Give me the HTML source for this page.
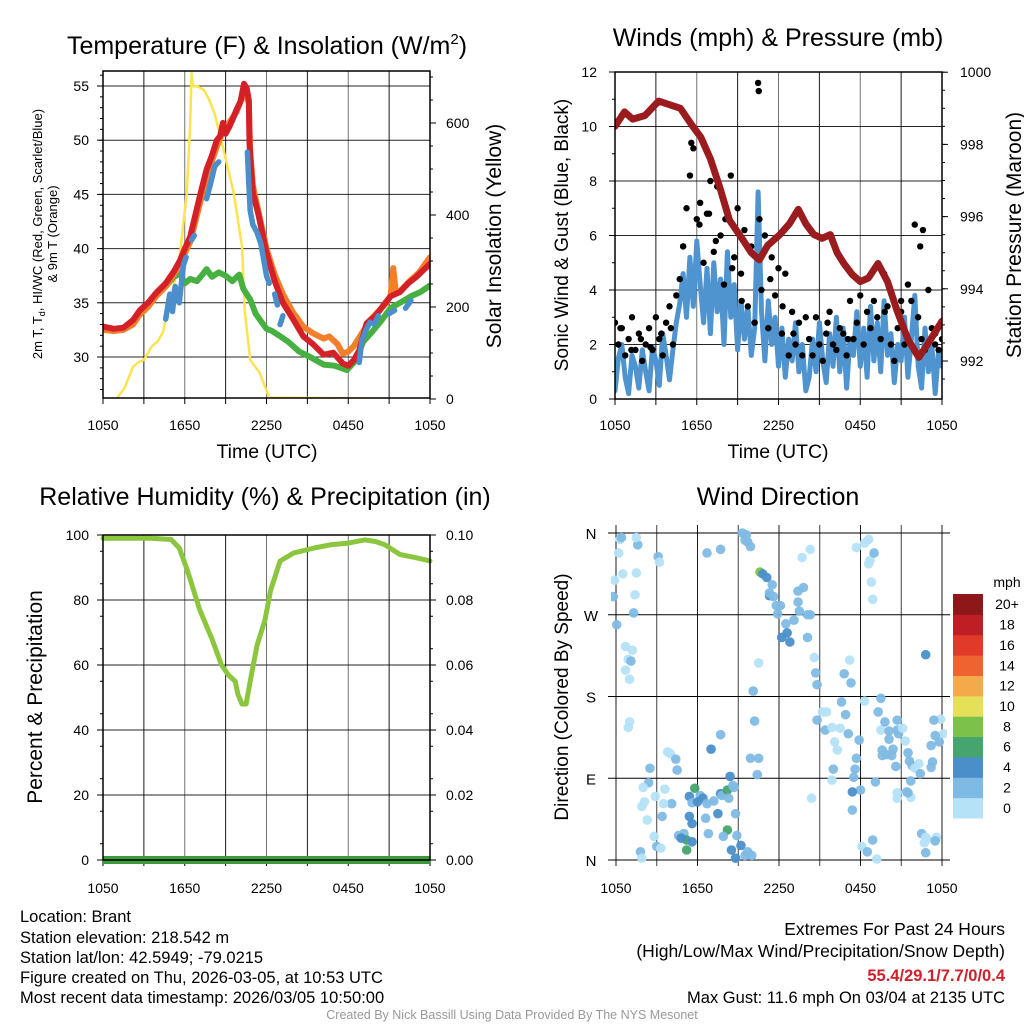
<!DOCTYPE html>
<html><head><meta charset="utf-8">
<style>
html,body{margin:0;padding:0;background:#fff;}
svg{display:block;font-family:"Liberation Sans",sans-serif;}
</style></head>
<body>
<svg id="fig" width="1024" height="1024" viewBox="0 0 1024 1024" xmlns="http://www.w3.org/2000/svg">
<rect x="0" y="0" width="1024" height="1024" fill="#fff"/>
<g id="p1"></g>
<g id="p2"></g>
<g id="p3"></g>
<g id="p4"></g>

<text x="267" y="54" font-size="25" text-anchor="middle">Temperature (F) &amp; Insolation (W/m<tspan dy="-10" font-size="15">2</tspan><tspan dy="10">)</tspan></text>
<text x="778" y="46" font-size="25" text-anchor="middle">Winds (mph) &amp; Pressure (mb)</text>
<text x="265" y="505" font-size="25" text-anchor="middle">Relative Humidity (%) &amp; Precipitation (in)</text>
<text x="778" y="505" font-size="25" text-anchor="middle">Wind Direction</text>

<text x="267" y="458" font-size="19.5" text-anchor="middle">Time (UTC)</text>
<text x="778" y="458" font-size="19.5" text-anchor="middle">Time (UTC)</text>

<text transform="translate(42,234) rotate(-90)" font-size="13" text-anchor="middle">2m T, T<tspan dy="3" font-size="9">d</tspan><tspan dy="-3">, HI/WC (Red, Green, Scarlet/Blue)</tspan></text>
<text transform="translate(57,234) rotate(-90)" font-size="13" text-anchor="middle">&amp; 9m T (Orange)</text>
<text transform="translate(501,236) rotate(-90)" font-size="21" text-anchor="middle">Solar Insolation (Yellow)</text>
<text transform="translate(568,235) rotate(-90)" font-size="19" text-anchor="middle">Sonic Wind &amp; Gust (Blue, Black)</text>
<text transform="translate(1021,235) rotate(-90)" font-size="21" text-anchor="middle">Station Pressure (Maroon)</text>
<text transform="translate(42,697) rotate(-90)" font-size="21" text-anchor="middle">Percent &amp; Precipitation</text>
<text transform="translate(568,697) rotate(-90)" font-size="19" text-anchor="middle">Direction (Colored By Speed)</text>

<g font-size="16.5">
<text x="20" y="922">Location: Brant</text>
<text x="20" y="943">Station elevation: 218.542 m</text>
<text x="20" y="963">Station lat/lon: 42.5949; -79.0215</text>
<text x="20" y="983">Figure created on Thu, 2026-03-05, at 10:53 UTC</text>
<text x="20" y="1003">Most recent data timestamp: 2026/03/05 10:50:00</text>
</g>
<g font-size="17.5" text-anchor="end">
<text x="1005" y="935">Extremes For Past 24 Hours</text>
<text x="1005" y="957">(High/Low/Max Wind/Precipitation/Snow Depth)</text>
<text x="1005" y="981" fill="#d0202a" font-weight="bold" font-size="16.5">55.4/29.1/7.7/0/0.4</text>
<text x="1005" y="1003" font-size="16.5">Max Gust: 11.6 mph On 03/04 at 2135 UTC</text>
</g>
<text x="512" y="1019" font-size="12.5" fill="#999" text-anchor="middle">Created By Nick Bassill Using Data Provided By The NYS Mesonet</text>
</svg>
<script>
// ---------- data ----------
const xTickLabels = ["1050","1650","2250","0450","1050"];
const tempTicks = [30,35,40,45,50,55];
const insolTicks = [0,200,400,600];
const windTicks = [0,2,4,6,8,10,12];
const presTicks = [992,994,996,998,1000];
const rhTicks = [0,20,40,60,80,100];
const precipTicks = ["0.00","0.02","0.04","0.06","0.08","0.10"];
const dirLabels = ["N","E","S","W","N"];

const redH = [0,0.8,1.5,2.2,2.7,3.3,3.9,4.6,5.2,5.65,6.0,6.4,6.8,7.2,7.6,8.0,8.35,8.6,8.8,9.0,9.3,9.6,9.8,10.1,10.35,10.55,10.7,10.75,10.85,11.0,11.4,12.0,12.6,13.2,13.9,14.7,15.4,16.2,16.9,17.6,18.0,18.4,18.8,19.35,20.0,20.6,21.1,21.8,22.4,23.0,23.5,24];
const redT = [32.8,32.6,32.7,33.4,34.3,35.0,35.9,36.8,37.9,38.9,40.0,41.1,43.2,45.3,47.3,48.6,50.0,50.4,51.6,50.6,51.3,52.2,52.8,53.6,55.2,54.8,53.7,49.7,47.8,45.1,43.2,39.6,37.0,35.0,33.6,31.9,31.2,30.2,30.4,29.4,29.2,29.7,30.6,33.1,33.8,34.8,35.6,36.0,36.8,37.4,38.0,38.6];
const orangeH = [0,0.8,1.5,2.2,2.7,3.3,3.9,4.6,5.2,5.65,6.4,7.6,8.35,8.8,9.8,10.35,10.7,10.8,11.0,12.0,12.6,13.2,13.9,14.7,15.4,16.2,16.6,17.2,17.6,18.0,18.4,19.0,19.6,20.2,20.8,21.1,21.3,21.5,21.9,22.5,23.2,24];
const orangeT = [32.5,32.4,32.5,33.0,33.9,34.6,35.6,36.5,37.6,38.6,40.6,46.6,49.4,50.8,52.6,54.4,53.5,49.0,45.8,40.0,37.6,35.8,34.2,32.8,32.2,31.7,31.9,31.2,30.3,30.5,31.0,32.2,33.4,34.2,35.0,35.6,38.2,35.9,36.2,37.0,37.8,39.2];
const greenH = [0,0.8,1.5,2.2,2.7,3.3,3.9,4.6,5.2,5.65,6.0,6.4,6.9,7.3,7.6,8.0,8.5,9.0,9.5,10.0,10.3,10.8,11.2,11.6,12.0,12.4,12.9,13.6,14.4,15.2,16.2,17.0,17.9,18.5,19.1,19.8,20.4,21.1,21.8,22.6,23.3,24];
const greenT = [32.6,32.5,32.6,33.3,34.2,34.9,35.8,36.5,37.4,37.7,36.8,37.2,37.0,37.6,38.1,37.4,37.8,37.5,37.0,37.6,36.3,35.3,34.0,33.3,32.6,32.4,32.0,31.4,30.5,30.0,29.3,29.2,28.8,29.6,31.4,32.4,33.3,34.5,35.0,35.6,36.0,36.6];
const wcH = [4.6,4.9,5.1,5.3,5.6,5.9,6.1,null,6.5,6.7,null,7.6,7.9,8.2,8.5,null,10.6,10.7,10.8,11.0,11.3,11.6,12.0,12.2,null,12.6,12.8,null,13.0,13.2,null,18.8,19.0,19.3,19.6,null,19.9,20.2,null,21.0,21.4,null,22.2,22.6];
const wcT = [33.5,35.8,34.2,36.5,35.0,38.5,39.2,null,40.8,41.2,null,44.6,46.0,47.6,48.0,null,48.9,46.0,43.5,42.2,41.5,40.4,37.5,36.8,null,35.8,34.8,null,33.0,33.8,null,29.5,31.5,32.5,33.2,null,33.0,33.8,null,34.0,34.3,null,34.5,35.2];
const insolH = [0,1.0,1.6,2.2,2.6,3.0,3.6,4.0,4.4,4.9,5.3,5.65,6.15,6.4,6.5,6.6,6.9,7.4,7.8,8.2,8.8,9.6,10.2,10.4,10.8,11.5,12.2,24];
const insolW = [0,0,25,70,80,85,115,125,145,215,260,317,447,600,708,680,680,672,650,620,548,447,331,193,85,57,3,0];

const windV = [0.3,1.5,2.0,0.8,0.2,1.6,1.2,0.4,1.8,1.0,0.3,1.9,1.4,0.5,2.4,1.6,0.7,1.8,2.8,
3.5,4.6,3.0,5.2,3.4,5.8,4.2,2.8,
4.8,2.4,5.0,3.2,4.4,2.0,5.4,3.0,4.2,1.8,3.6,2.2,3.4,1.6,2.6,
7.6,
3.2,1.4,3.6,2.0,3.0,1.2,2.6,0.8,2.2,1.4,2.8,1.0,2.0,0.3,
0.8,2.2,1.0,2.8,1.4,0.6,2.4,1.2,3.0,1.0,2.6,0.4,2.2,1.6,3.2,1.2,2.6,0.8,3.4,1.4,2.8,1.0,3.6,1.6,2.4,0.6,2.0,1.4,3.0,0.8,2.2,3.8,1.2,0.4,2.6,1.0,2.0,0.2,1.8,1.2];
const gustV = [2.8,2.0,2.6,1.6,2.2,3.0,1.8,2.4,1.4,2.0,2.6,1.8,3.0,2.2,1.6,2.8,3.4,2.0,3.8,
4.4,5.6,7.0,8.2,9.2,6.6,7.2,5.0,
6.8,8.0,5.4,7.8,6.0,4.2,6.6,8.2,5.2,7.0,4.6,6.2,3.4,5.6,2.8,
11.6,
4.0,6.0,2.6,5.2,3.8,4.8,2.4,4.6,1.6,3.2,2.0,2.8,1.6,3.0,
2.2,1.6,3.0,2.0,1.4,2.4,3.2,2.0,1.8,2.6,2.4,1.6,3.6,2.2,2.8,3.8,2.0,3.2,2.6,3.6,3.0,2.2,4.6,3.4,2.0,1.4,2.6,3.2,2.0,4.2,3.6,6.4,3.0,2.2,1.8,4.0,2.6,2.0,1.8,2.2];
const gustExtraH = [0.4,1.2,1.9,2.6,3.4,4.1,5.0,5.6,6.2,6.9,7.4,8.1,8.6,9.3,10.55,10.6,11.4,12.3,13.1,15.6,17.1,19.8,21.0,22.4,22.6,23.5];
const gustExtraV = [2.6,1.8,2.2,1.9,2.4,2.6,5.6,9.4,6.4,6.8,5.8,6.6,4.8,3.6,11.3,6.6,4.4,3.4,2.4,2.8,2.2,3.2,3.6,5.6,6.2,2.4];
const presH = [0,0.7,1.3,2.2,3.2,4.0,4.8,5.7,6.3,7.0,7.7,8.4,9.4,10.0,10.6,11.2,12.1,12.8,13.45,14.0,14.6,15.2,15.8,16.3,16.8,17.4,18.0,18.6,19.3,20.0,20.7,21.5,22.3,23.0,24];
const presP = [998.5,998.9,998.7,998.8,999.2,999.1,999.0,998.5,998.2,997.6,996.8,995.9,995.35,995.0,994.8,995.2,995.5,995.8,996.2,995.8,995.5,995.4,995.5,995.0,994.7,994.4,994.2,994.3,994.7,994.2,993.4,992.6,992.1,992.5,993.1];

const rhH = [0,3.5,5.0,5.6,6.2,7.1,8.0,8.7,9.2,9.7,9.9,10.2,10.5,10.8,11.3,11.9,12.3,13.0,14.0,15.5,16.7,18.0,19.2,20.0,20.7,21.8,23.0,24];
const rhV = [99,99,98.6,96,89,77,68,60,57,55,51,48,48,55,66,74,83,92,94.5,96,97,97.5,98.5,98,97,94,93,92];
const precipH = [0,24];
const precipV = [0,0];

const dirH = [0.3,0.4,0.2,-0.1,-0.2,0.05,1.3,0.5,1.5,1.4,1.6,1.5,0.7,1.2,0.9,1.1,0.7,1.0,1.0,0.9,
2.5,2.4,2.0,2.1,1.9,2.3,2.8,3.0,1.8,1.9,2.9,3.4,3.6,3.8,4.0,4.4,4.5,4.1,3.5,3.3,3.1,3.2,
5.4,5.6,5.8,6.2,6.0,6.4,6.7,7.2,7.5,7.7,7.8,8.2,8.3,8.4,8.6,8.7,7.0,7.7,6.6,6.8,5.4,5.6,4.6,5.0,5.2,5.6,5.2,4.8,8.2,7.9,8.5,8.8,8.9,9.2,9.5,9.7,10.0,6.7,7.7,8.8,
9.3,9.6,9.5,9.7,9.9,10.6,10.8,11.1,11.5,11.3,11.3,11.6,11.8,11.9,12.1,12.5,12.6,12.8,12.2,13.1,13.4,13.4,13.5,13.8,13.7,14.3,14.1,14.3,14.1,14.6,14.7,14.8,10.5,10.1,10.2,9.9,10.5,10.4,14.4,
14.8,15.2,15.4,15.5,15.9,16.1,16.3,16.0,15.9,16.5,16.9,16.6,17.1,17.2,16.8,17.3,17.7,17.9,17.7,17.6,17.5,18.0,17.4,17.4,18.1,18.3,18.6,18.7,18.8,18.9,19.0,18.3,18.6,18.9,18.5,19.2,19.3,19.5,19.5,19.1,19.6,19.6,19.9,19.8,20.1,20.1,20.4,20.3,20.6,20.8,20.7,20.7,21.1,21.3,21.5,21.6,21.8,22.3,22.0,22.4,23.2,23.8,23.9,24.1,23.4,23.5,23.3,23.2,21.7,20.7,21.7,21.4,21.5,20.7,22.5,22.9,23.6,22.8,23.5,22.7,22.8,22.8];
const dirD = [353,355,338,308,290,259,272,315,316,292,347,355,235,231,221,219,209,199,152,146,
101,85,80,64,59,44,26,15,9,2,70,48,78,119,117,111,99,62,62,13,334,328,
70,63,79,71,64,68,62,65,51,73,71,77,68,92,82,80,122,138,46,29,48,40,27,29,22,20,11,24,33,26,11,2,27,16,5,9,5,338,342,51,
360,358,352,350,345,317,315,311,303,291,294,290,280,271,280,260,250,240,245,264,284,296,274,300,333,342,270,270,245,223,206,193,217,186,153,112,112,94,68,
154,163,143,163,146,130,121,100,88,145,160,174,139,220,205,195,344,132,112,100,91,77,75,55,15,175,353,330,306,287,338,349,326,22,9,1,163,178,143,86,121,115,116,152,142,133,122,115,103,139,143,154,145,131,118,109,104,106,101,95,126,130,155,139,154,137,108,102,87,74,69,75,74,68,29,23,25,25,21,19,8,226,357,358,334];
const dirS = [1,2,1,1,2,2,2,1,1,1,2,1,1,1,1,2,1,1,1,1,
2,2,1,1,1,1,1,2,2,1,1,2,1,1,1,2,2,2,1,1,2,1,
4,3,6,3,4,4,3,3,4,4,3,6,3,4,3,3,4,2,2,3,4,4,3,3,6,4,6,4,6,3,4,4,3,4,3,2,2,2,2,2,
3,3,2,3,3,8,4,4,3,4,3,3,2,3,2,3,4,4,4,2,3,3,2,3,1,1,2,3,2,1,2,3,1,2,2,3,2,3,1,
2,1,2,1,1,1,1,2,1,1,2,3,2,1,3,3,1,2,2,3,2,3,4,3,1,1,1,1,1,1,3,1,1,3,3,1,3,3,1,3,2,2,2,3,2,3,3,2,3,3,3,2,1,1,2,2,3,1,1,2,3,2,1,1,3,2,2,2,3,1,1,2,3,1,3,1,1,1,3,1,2,4,2,4];
const speedLabels = ["0","2","4","6","8","10","12","14","16","18","20+"];
const speedColors = ["#b5e2f7","#7fbae4","#4a8fc9","#46a46e","#7cc24a","#e6e058","#f4a94a","#ee6330","#df3a2a","#be1e24","#8e1719"];

// ---------- helpers ----------
const NS = "http://www.w3.org/2000/svg";
function mk(parent, tag, attrs){
  const e = document.createElementNS(NS, tag);
  for (const k in attrs) e.setAttribute(k, attrs[k]);
  parent.appendChild(e);
  return e;
}
function pathFrom(xs, ys, fx, fy){
  let d = "", pen = false;
  for (let i = 0; i < xs.length; i++){
    if (xs[i] === null || ys[i] === null){ pen = false; continue; }
    d += (pen ? "L" : "M") + fx(xs[i]).toFixed(1) + " " + fy(ys[i]).toFixed(1);
    pen = true;
  }
  return d;
}
function xTicks(g, x0, x1, yb, labelY, grid, top){
  const w = x1 - x0;
  for (let i = 0; i <= 8; i++){
    const x = x0 + w*i/8;
    if (grid && i > 0 && i < 8){
      const gl = mk(g, "line", {x1:x, y1:top, x2:x, y2:yb, stroke:"#000", "stroke-width":1, "stroke-opacity":(i%2===0?0.55:0.9)});
      
      
    }
    const t = mk(g, "line", {x1:x, y1:yb, x2:x, y2:yb+6, stroke:"#000", "stroke-width":1});
    
    
  }
  for (let i = 0; i < xTickLabels.length; i++){
    const x = x0 + w*i/4;
    const tx = mk(g, "text", {x:x, y:labelY, "font-size":14, "text-anchor":"middle"});
    tx.textContent = xTickLabels[i];
    
    
  }
}
function frame(g, x0, y0, x1, y1){
  const r = mk(g, "rect", {x:x0, y:y0, width:x1-x0, height:y1-y0, fill:"none", stroke:"#000", "stroke-width":1.5});
  
  
}
function hGrid(g, x0, x1, y){
  const l = mk(g, "line", {x1:x0, y1:y, x2:x1, y2:y, stroke:"#000", "stroke-width":1, "stroke-opacity":0.85});
  
  
}
function yLabel(g, x, y, txt, anchor, name){
  const t = mk(g, "text", {x:x, y:y+5, "font-size":14, "text-anchor":anchor});
  t.textContent = txt;
  
  
}
function tick(g, x1, y, x2){
  const l = mk(g, "line", {x1:x1, y1:y, x2:x2, y2:y, stroke:"#000", "stroke-width":1});
  
  
}

// ---------- panel 1 ----------
(function(){
  const g = document.getElementById("p1");
  const X0=103, X1=430, Y0=71, Y1=398;
  const xs = h => X0 + h*(X1-X0)/24;
  const yT = t => 357 - (t-30)*10.84;
  const yI = w => 399 - w*0.46;
  xTicks(g, X0, X1, Y1, 430, true, Y0);
  tempTicks.forEach(t => { hGrid(g, X0, X1, yT(t)); tick(g, X0-6, yT(t), X0); yLabel(g, X0-14, yT(t), String(t), "end", "temperature-tick-label"); });
  for (let t = 27; t <= 56; t++){ tick(g, X0-3, yT(t), X0); }
  insolTicks.forEach(w => { tick(g, X1, yI(w), X1+6); yLabel(g, X1+16, yI(w), String(w), "start", "insolation-tick-label"); });
  for (let w = 50; w <= 700; w += 50){ tick(g, X1, yI(w), X1+3); }
  const clip = mk(g, "clipPath", {id:"c1"}); mk(clip, "rect", {x:X0, y:Y0-2, width:X1-X0, height:Y1-Y0+2});
  const s = mk(g, "g", {"clip-path":"url(#c1)", "stroke-linejoin":"round", "stroke-linecap":"round", fill:"none"});
  const p1 = mk(s, "path", {d:pathFrom(insolH, insolW, xs, yI), stroke:"#fde34f", "stroke-width":2.5});
  
  
  const p2 = mk(s, "path", {d:pathFrom(greenH, greenT, xs, yT), stroke:"#46b040", "stroke-width":6});
  
  
  const p3 = mk(s, "path", {d:pathFrom(orangeH, orangeT, xs, yT), stroke:"#f37f2b", "stroke-width":6});
  
  
  const p4 = mk(s, "path", {d:pathFrom(redH, redT, xs, yT), stroke:"#d42027", "stroke-width":6});
  
  
  const p5 = mk(s, "path", {d:pathFrom(wcH, wcT, xs, yT), stroke:"#4a8fcc", "stroke-width":5.5});
  
  
  frame(g, X0, Y0, X1, Y1);
})();

// ---------- panel 2 ----------
(function(){
  const g = document.getElementById("p2");
  const X0=615, X1=942, Y0=72, Y1=399;
  const xs = h => X0 + h*(X1-X0)/24;
  const yW = v => 399 - v*27.25;
  const yP = p => 361 - (p-992)*36.1;
  xTicks(g, X0, X1, Y1, 430, true, Y0);
  windTicks.forEach(v => { if (v>0 && v<12) hGrid(g, X0, X1, yW(v)); tick(g, X0-6, yW(v), X0); yLabel(g, X0-18, yW(v), String(v), "end", "wind-tick-label"); });
  for (let v = 1; v < 12; v += 2){ tick(g, X0-3, yW(v), X0); }
  presTicks.forEach(p => { tick(g, X1, yP(p), X1+6); yLabel(g, X1+18, yP(p), String(p), "start", "pressure-tick-label"); });
  for (let p = 991.5; p <= 1000; p += 0.5){ tick(g, X1, yP(p), X1+3); }
  const clip = mk(g, "clipPath", {id:"c2"}); mk(clip, "rect", {x:X0, y:Y0, width:X1-X0, height:Y1-Y0});
  const s = mk(g, "g", {"clip-path":"url(#c2)", "stroke-linejoin":"round", "stroke-linecap":"round", fill:"none"});
  const wh = windV.map((v,i) => i*0.25);
  const wl = mk(s, "path", {d:pathFrom(wh, windV, xs, yW), stroke:"#4f93cf", "stroke-width":5});
  
  
  const gg = mk(s, "g", {fill:"#000"});
  gustV.forEach((v,i) => {
    const c = mk(gg, "circle", {cx:xs(i*0.25), cy:yW(v), r:3.2});
    
    
  });
  gustExtraV.forEach((v,i) => {
    const c = mk(gg, "circle", {cx:xs(gustExtraH[i]), cy:yW(v), r:3.2});
    
    
  });
  const pl = mk(s, "path", {d:pathFrom(presH, presP, xs, yP), stroke:"#9b1c1f", "stroke-width":7});
  
  
  frame(g, X0, Y0, X1, Y1);
})();

// ---------- panel 3 ----------
(function(){
  const g = document.getElementById("p3");
  const X0=103, X1=430, Y0=535, Y1=860;
  const xs = h => X0 + h*(X1-X0)/24;
  const yR = r => 860 - r*3.25;
  xTicks(g, X0, X1, Y1, 893, true, Y0);
  rhTicks.forEach((r,i) => {
    if (r>0 && r<100) hGrid(g, X0, X1, yR(r));
    tick(g, X0-6, yR(r), X0); tick(g, X1, yR(r), X1+6);
    yLabel(g, X0-14, yR(r), String(r), "end", "humidity-tick-label");
    yLabel(g, X1+16, yR(r), precipTicks[i], "start", "precip-tick-label");
  });
  for (let r = 5; r < 100; r += 10){ tick(g, X0-3, yR(r), X0); tick(g, X1, yR(r), X1+3); }
  const s = mk(g, "g", {"stroke-linejoin":"round", "stroke-linecap":"round", fill:"none"});
  const rl = mk(s, "path", {d:pathFrom(rhH, rhV, xs, yR), stroke:"#8cc63e", "stroke-width":5});
  
  
  const pr = mk(s, "path", {d:pathFrom(precipH, precipV, xs, p => 860 - p*3250), stroke:"#3c9a3c", "stroke-width":8, "stroke-linecap":"butt"});
  
  
  frame(g, X0, Y0, X1, Y1);
})();

// ---------- panel 4 ----------
(function(){
  const g = document.getElementById("p4");
  const X0=616, X1=942, Y0=533, Y1=860;
  const xs = h => X0 + h*(X1-X0)/24;
  const yD = d => 860 - d*(Y1-Y0)/360;
  for (let i = 0; i <= 8; i++){
    const x = X0 + (X1-X0)*i/8;
    const l = mk(g, "line", {x1:x, y1:Y0-8, x2:x, y2:Y1+6, stroke:"#000", "stroke-width":1, "stroke-opacity":(i%2===0?0.9:0.75)});
    
    
  }
  for (let i = 0; i < xTickLabels.length; i++){
    const t = mk(g, "text", {x:X0+(X1-X0)*i/4, y:893, "font-size":14, "text-anchor":"middle"});
    t.textContent = xTickLabels[i];
    
    
  }
  dirLabels.forEach((lab,i) => {
    const y = yD(i*90);
    const l = mk(g, "line", {x1:X0-8, y1:y, x2:X1+8, y2:y, stroke:"#000", "stroke-width":1});
    
    
    const t = mk(g, "text", {x:591, y:y+6, "font-size":15, "text-anchor":"middle"});
    t.textContent = lab;
    
    
  });
  const clip = mk(g, "clipPath", {id:"c4"}); mk(clip, "rect", {x:X0-5, y:Y0-6, width:X1-X0+10, height:Y1-Y0+12});
  const s = mk(g, "g", {"clip-path":"url(#c4)"});
  dirD.forEach((d,i) => {
    const c = mk(s, "circle", {cx:xs(dirH[i]), cy:yD(d), r:4.8, fill:speedColors[Math.min(10, Math.floor(dirS[i]/2))], "fill-opacity":0.95});
    
    
  });
  // colorbar
  const ct = mk(g, "text", {x:1007, y:587, "font-size":14, "text-anchor":"middle"});
  ct.textContent = "mph";
  
  
  const bh = (818-594)/11;
  speedLabels.forEach((lab,i) => {
    const j = 10 - i;
    const y = 594 + j*bh;
    const r = mk(g, "rect", {x:953, y:y, width:30, height:bh+0.5, fill:speedColors[i]});
    
    
    const t = mk(g, "text", {x:1007, y:y+bh/2+5, "font-size":14, "text-anchor":"middle"});
    t.textContent = lab;
    
    
  });
})();
</script>
</body></html>
